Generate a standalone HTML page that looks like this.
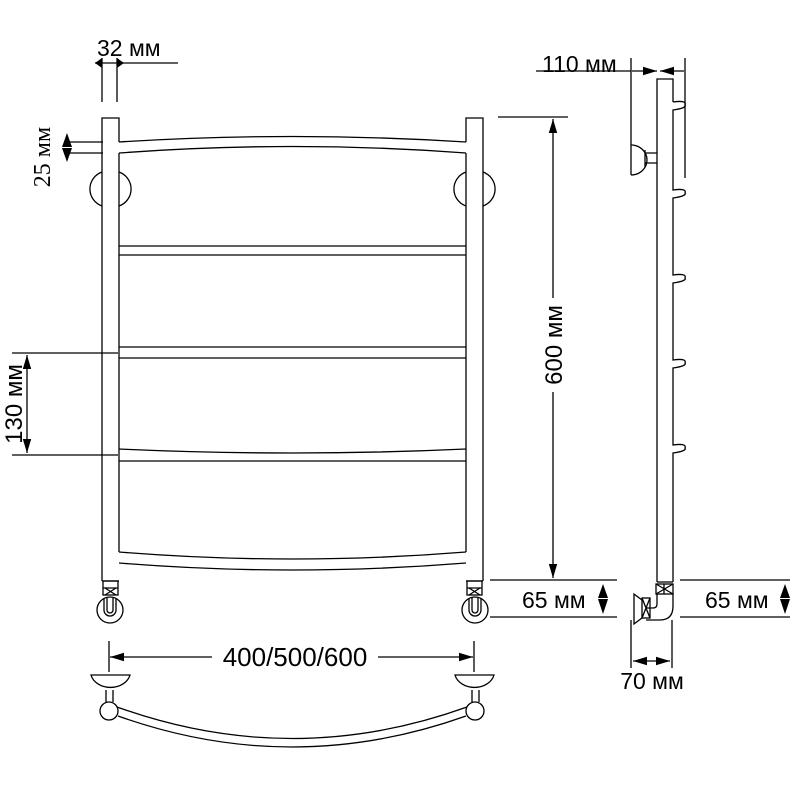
<!DOCTYPE html>
<html><head><meta charset="utf-8"><style>
html,body{margin:0;padding:0;background:#fff;}
svg{display:block}
text{font-family:"Liberation Sans",sans-serif;fill:#000}
</style></head><body>
<svg width="800" height="800" viewBox="0 0 800 800" xmlns="http://www.w3.org/2000/svg">
<defs>
<marker id="b" viewBox="0 0 10 10" refX="10" refY="5" markerWidth="14" markerHeight="14" orient="auto-start-reverse" markerUnits="userSpaceOnUse"><path d="M0,2 L10,5 L0,8 z" fill="#000"/></marker>
</defs>
<g fill="none" stroke="#000" stroke-width="1.3">
<path d="M102,581 V118 H119 V142"/>
<path d="M483,581 V118 H466 V142"/>
<path d="M102,581 H119 M466,581 H483"/>
<line x1="119" y1="153" x2="119" y2="552"/>
<line x1="466" y1="153" x2="466" y2="552"/>
<path d="M119,142 Q292,131 466,142"/>
<path d="M119,153 Q292,140 466,153"/>
<path d="M119,246 H466 M119,255 H466"/>
<path d="M119,347 H466 M119,358 H466"/>
<path d="M119,449 Q292,457 466,449 M119,461 H466"/>
<path d="M119,552 Q292,566 466,552"/>
<path d="M119,563 Q292,577 466,563"/>
<path d="M102,172 A18,18 0 0 0 102,206"/><path d="M119,172 A18,18 0 0 1 119,206"/>
<path d="M466,172 A18,18 0 0 0 466,206"/><path d="M483,172 A18,18 0 0 1 483,206"/>
<rect x="103" y="581" width="15" height="14"/><path d="M103,588 H118 M105,588 L116,595 M116,588 L105,595"/>
<circle cx="110" cy="610" r="13"/><path d="M104,598 V610 A6,6 0 0 0 116,610 V598"/><path d="M107,598 V610 A3,3 0 0 0 113,610 V598"/>
<rect x="467" y="581" width="15" height="14"/><path d="M467,588 H482 M469,588 L480,595 M480,588 L469,595"/>
<circle cx="475" cy="610" r="13"/><path d="M469,598 V610 A6,6 0 0 0 481,610 V598"/><path d="M472,598 V610 A3,3 0 0 0 478,610 V598"/>
<line x1="102" y1="102" x2="102" y2="58"/><line x1="117" y1="102" x2="117" y2="58"/>
<line x1="95" y1="63" x2="178" y2="63"/>
<line x1="65" y1="142" x2="103" y2="142"/><line x1="65" y1="153" x2="103" y2="153"/>
<line x1="12" y1="353" x2="118" y2="353"/><line x1="12" y1="455" x2="118" y2="455"/>
<line x1="27" y1="355" x2="27" y2="453" marker-start="url(#b)" marker-end="url(#b)"/>
<line x1="498" y1="117" x2="568" y2="117"/>
<line x1="553" y1="119" x2="553" y2="298" marker-start="url(#b)"/>
<line x1="553" y1="392" x2="553" y2="578" marker-end="url(#b)"/>
<line x1="490" y1="580" x2="617" y2="580"/><line x1="490" y1="617" x2="617" y2="617"/>
<line x1="680" y1="580" x2="790" y2="580"/><line x1="680" y1="617" x2="790" y2="617"/>
<line x1="109" y1="641" x2="109" y2="672"/><line x1="474" y1="641" x2="474" y2="672"/>
<line x1="110" y1="657" x2="212" y2="657" marker-start="url(#b)"/>
<line x1="378" y1="657" x2="473" y2="657" marker-end="url(#b)"/>
<path d="M91,675 H130 A20,16 0 0 1 91,675 Z"/><path d="M106,690 V702 M113,690 V702"/>
<circle cx="109" cy="711" r="9"/>
<path d="M455,675 H494 A20,16 0 0 1 455,675 Z"/><path d="M472,690 V702 M479,690 V702"/>
<circle cx="475" cy="711" r="9"/>
<path d="M117,707 Q292,770 467,707"/><path d="M118,716 Q292,778 466,716"/>
<path d="M657,582 V79 H673 V102"/>
<line x1="673" y1="582" x2="657" y2="582"/>
<path d="M673,102 Q687,100 685,105 Q687,108 673,110 V190 Q687,188 685,193 Q687,196 673,198 V275 Q687,273 685,278 Q687,281 673,283 V360 Q687,358 685,363 Q687,366 673,368 V445 Q687,443 685,448 Q687,451 673,453 V582"/>
<line x1="631" y1="58" x2="631" y2="175"/>
<line x1="685" y1="58" x2="685" y2="178"/>
<path d="M631,145 A16,15 0 0 1 631,175"/>
<path d="M645,153 H657 M645,163 H657 M645,150 V167"/>
<line x1="536" y1="71" x2="631" y2="71"/>
<line x1="632" y1="71" x2="657" y2="71" marker-end="url(#b)"/>
<line x1="684" y1="71" x2="660" y2="71" marker-end="url(#b)"/>
<rect x="656" y="584" width="17" height="10"/><path d="M656,584 L673,594 M673,584 L656,594 M664,584 V594"/>
<path d="M657,594 V604 Q657,608 653,608 H646 M673,594 V606 Q673,620 660,620 H646"/>
<rect x="642" y="598" width="8" height="20"/><path d="M642,598 L650,618 M650,598 L642,618"/>
<path d="M642,600 L634,594 V624 L642,618"/>
<line x1="631" y1="620" x2="631" y2="668"/><line x1="672" y1="620" x2="672" y2="668"/>
<line x1="633" y1="661" x2="670" y2="661" marker-start="url(#b)" marker-end="url(#b)"/>
</g>
<g fill="#000">
<path d="M95,63 L102,58 L102,68 Z M124,63 L117,58 L117,68 Z"/>
<path d="M67,133 L62,147 L72,147 Z M67,162 L62,148 L72,148 Z"/>
<path d="M603,584 L598,598 L608,598 Z M603,614 L598,599 L608,599 Z"/>
<path d="M785,584 L780,598 L790,598 Z M785,614 L780,599 L790,599 Z"/>
</g>
<text x="97" y="56" font-size="23">32 мм</text>
<text transform="translate(50,157) rotate(-90)" font-size="24" text-anchor="middle" style="font-family:'Liberation Serif',serif">25 мм</text>
<text transform="translate(22,404) rotate(-90)" font-size="24" text-anchor="middle">130 мм</text>
<text transform="translate(562,345) rotate(-90)" font-size="24" text-anchor="middle">600 мм</text>
<text x="295" y="666" font-size="26" text-anchor="middle">400/500/600</text>
<text x="542" y="72" font-size="23">110 мм</text>
<text x="522" y="608" font-size="23">65 мм</text>
<text x="705" y="608" font-size="23">65 мм</text>
<text x="652" y="689" font-size="23" text-anchor="middle">70 мм</text>
</svg>
</body></html>
